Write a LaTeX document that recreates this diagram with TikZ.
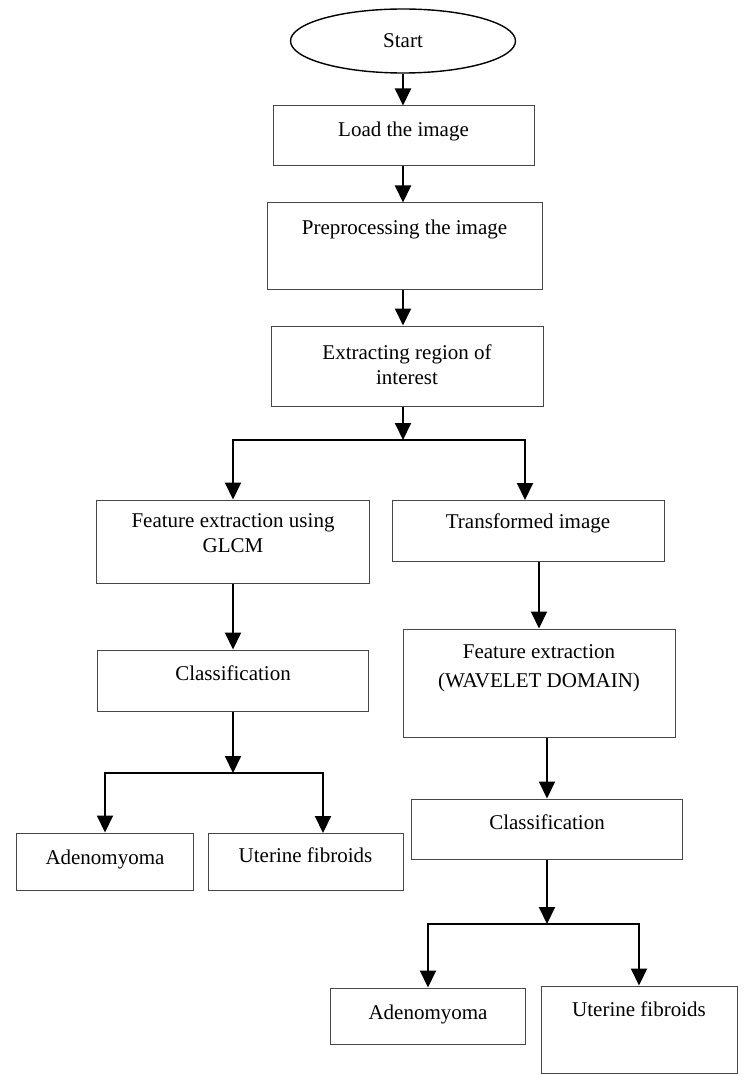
\documentclass[tikz,border=0pt]{standalone}
\usepackage{fontspec}
\setmainfont{Liberation Serif}
\usetikzlibrary{arrows.meta,shapes.geometric}
\begin{document}
\begin{tikzpicture}[x=1pt,y=-1pt,
  box/.style={draw=black!72, line width=1pt, rectangle, inner sep=0pt},
  txt/.style={font=\fontsize{21}{25}\selectfont, align=center, inner sep=0pt, anchor=base},
  txtc/.style={font=\fontsize{21}{25}\selectfont, align=center, inner sep=0pt, anchor=center},
  arr/.style={line width=2pt, -{Triangle[width=16pt,length=17pt]}}]
\useasboundingbox (0,0) rectangle (744,1075);

% main column
\node[ellipse, draw=black, line width=1.4pt, minimum width=225pt, minimum height=64pt,
      inner sep=0pt, font=\fontsize{21}{25}\selectfont] (start) at (403,41) {Start};
\node[box, minimum width=261pt, minimum height=60pt] (load) at (403.5,136) {};
\node[txt] (loadt) at (403.5,137) {Load the image};
\node[box, minimum width=275pt, minimum height=86pt] (pre) at (404.5,246) {};
\node[txt] (pret) at (404.5,234) {Preprocessing the image};
\node[box, minimum width=272pt, minimum height=80pt] (ext) at (407,366) {};
\node[txtc] (extt) at (407,365) {Extracting region of\\interest};

% left branch
\node[box, minimum width=273pt, minimum height=83pt] (glcm) at (233,541.5) {};
\node[txtc] (glcmt) at (233,533) {Feature extraction using\\GLCM};
\node[box, minimum width=271pt, minimum height=61pt] (classL) at (233,680.5) {};
\node[txt] (classLt) at (233,680) {Classification};
\node[box, minimum width=177pt, minimum height=57pt] (adenoL) at (105,861.5) {};
\node[txt] (adenoLt) at (105,864) {Adenomyoma};
\node[box, minimum width=195pt, minimum height=57pt] (fibL) at (305.5,861.5) {};
\node[txt] (fibLt) at (305.5,862) {Uterine fibroids};

% right branch
\node[box, minimum width=272pt, minimum height=61pt] (trans) at (528,530.5) {};
\node[txt] (transt) at (528,528) {Transformed image};
\node[box, minimum width=272pt, minimum height=108pt] (wave) at (539,683) {};
\node[txtc] (wavet) at (539,668) {Feature extraction\\[4pt](WAVELET DOMAIN)};
\node[box, minimum width=271pt, minimum height=60pt] (classR) at (547,829) {};
\node[txt] (classRt) at (547,829) {Classification};
\node[box, minimum width=195pt, minimum height=56pt] (adenoR) at (428,1016) {};
\node[txt] (adenoRt) at (428,1019) {Adenomyoma};
\node[box, minimum width=196pt, minimum height=87pt] (fibR) at (639,1029.5) {};
\node[txt] (fibRt) at (639,1016) {Uterine fibroids};

% junction points
\coordinate (ax) at (403,0);
\coordinate (s1) at (403,440);
\coordinate (tIn) at (525,500);
\coordinate (s2) at (233,773);
\coordinate (fLin) at (323,833);
\coordinate (s3) at (547,924);

% connectors
\draw[arr] (start.south) -- (ax |- load.north);
\draw[arr] (ax |- load.south) -- (ax |- pre.north);
\draw[arr] (ax |- pre.south) -- (ax |- ext.north);
\draw[arr] (ax |- ext.south) -- (s1);
\draw[arr] (s1) -| (glcm.north);
\draw[arr] (s1) -| (tIn);
\draw[arr] (glcm.south) -- (glcm.south |- classL.north);
\draw[arr] (classL.south) -- (s2);
\draw[arr] (s2) -| (adenoL.north);
\draw[arr] (s2) -| (fLin);
\draw[arr] (wave.north |- trans.south) -- (wave.north);
\draw[arr] (classR.north |- wave.south) -- (classR.north);
\draw[arr] (classR.south) -- (s3);
\draw[arr] (s3) -| (adenoR.north);
\draw[arr] (s3) -| (fibR.north);
\end{tikzpicture}
\end{document}
